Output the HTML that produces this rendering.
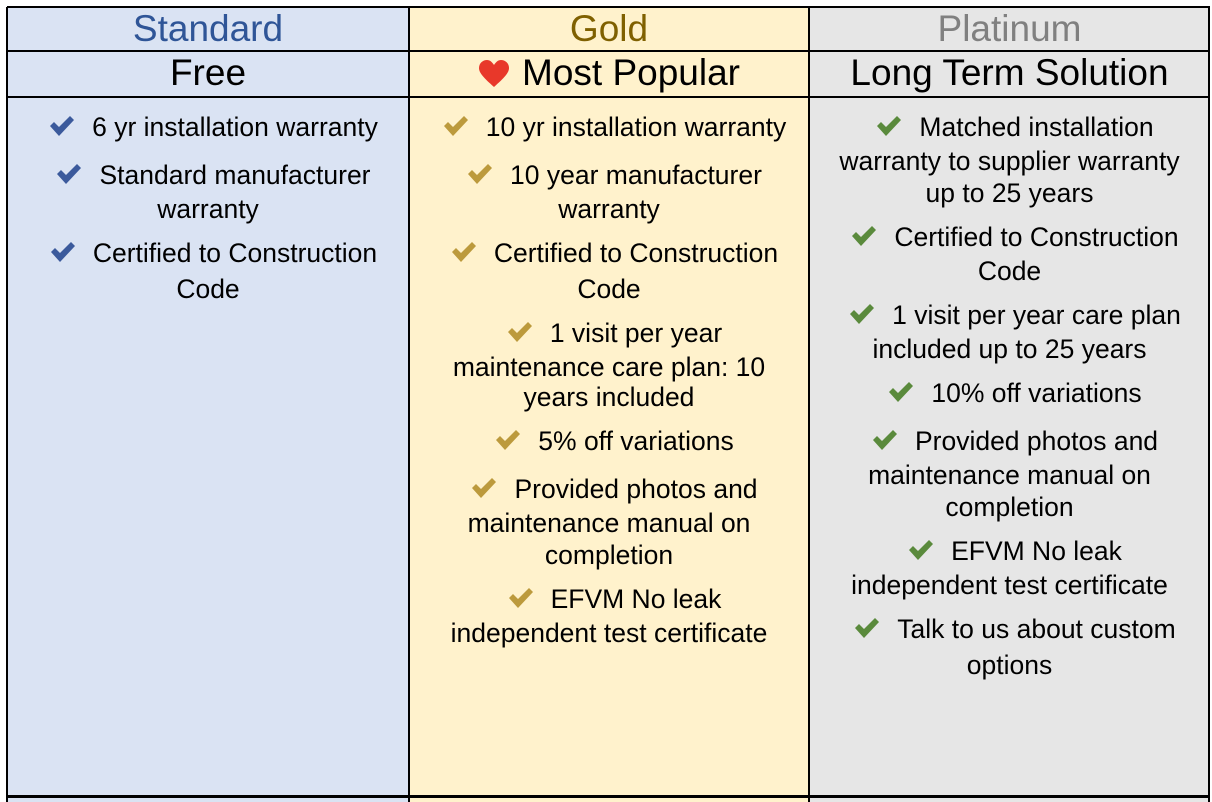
<!DOCTYPE html>
<html><head><meta charset="utf-8"><style>
body{margin:0;width:1212px;height:802px;background:#fff;position:relative;overflow:hidden;font-family:"Liberation Sans",Arial,sans-serif}
.col{position:absolute;top:7px;height:789px}
.vl{position:absolute;top:7px;height:795px;width:2px;background:#000}
.hl{position:absolute;left:7px;width:1203px;height:2px;background:#000}
.t{position:absolute;left:0;width:100%;text-align:center;font-size:37px;line-height:40px}
.ln{position:absolute;left:0;width:100%;text-align:center;font-size:26.5px;line-height:30px;white-space:nowrap;color:#000;box-sizing:border-box}
.ck{display:inline-block;vertical-align:-1px;margin-right:18px}
</style></head><body>
<div class="col" style="left:7px;width:402px;background:#dae3f3"></div>
<div class="col" style="left:409px;width:400px;background:#fff2cc"></div>
<div class="col" style="left:809px;width:401px;background:#e6e6e6"></div>
<div style="position:absolute;left:7px;top:797px;width:402px;height:5px;background:#dae3f3"></div>
<div style="position:absolute;left:409px;top:797px;width:400px;height:5px;background:#fff2cc"></div>
<div style="position:absolute;left:809px;top:797px;width:401px;height:5px;background:#e6e6e6"></div>
<div class="hl" style="top:6px"></div><div class="hl" style="top:50px"></div><div class="hl" style="top:96px"></div><div class="hl" style="top:795px;height:3px"></div>
<div class="vl" style="left:6px"></div><div class="vl" style="left:408px"></div><div class="vl" style="left:808px"></div><div class="vl" style="left:1208px"></div>
<div id="root"></div>
<script>
const cols=[
 {x:7,w:402,name:"Standard",nc:"#2f5597",sub:"Free",cc:"#3b5a9c",heart:false,
  items:[[["6 yr installation warranty",127]],[["Standard manufacturer",175],["warranty",209]],[["Certified to Construction",253],["Code",289]]]},
 {x:409,w:400,name:"Gold",nc:"#7f6000",sub:"Most Popular",cc:"#bc9a3c",heart:true,
  items:[[["10 yr installation warranty",127]],[["10 year manufacturer",175],["warranty",209]],[["Certified to Construction",253],["Code",289]],[["1 visit per year",333],["maintenance care plan: 10",367],["years included",397]],[["5% off variations",441]],[["Provided photos and",489],["maintenance manual on",523],["completion",555]],[["EFVM No leak",599],["independent test certificate",633]]]},
 {x:809,w:401,name:"Platinum",nc:"#808080",sub:"Long Term Solution",cc:"#5a8a3c",heart:false,
  items:[[["Matched installation",127],["warranty to supplier warranty",161],["up to 25 years",193]],[["Certified to Construction",237],["Code",271]],[["1 visit per year care plan",315],["included up to 25 years",349]],[["10% off variations",393]],[["Provided photos and",441],["maintenance manual on",475],["completion",507]],[["EFVM No leak",551],["independent test certificate",585]],[["Talk to us about custom",629],["options",665]]]}
];
const root=document.getElementById('root');
cols.forEach(c=>{
 const wrap=document.createElement('div');
 
 
 wrap.style.cssText=`position:absolute;left:${c.x}px;top:0;width:${c.w}px;height:802px`;
 const t=document.createElement('div');t.className='t';
 
 
 t.style.top='9px';t.style.color=c.nc;t.textContent=c.name;wrap.appendChild(t);
 const s=document.createElement('div');s.className='t';
 
 
 s.style.top='53px';
 s.innerHTML=(c.heart?'<svg width="32" height="28" viewBox="0 0 32 28" style="vertical-align:-3px;margin-right:12px"><path d="M16 27 C6 18 1 13 1 8 C1 3 5 0 9 0 C12 0 14 2 16 5 C18 2 20 0 23 0 C27 0 31 3 31 8 C31 13 26 18 16 27Z" fill="#e8382a"/></svg>':'')+c.sub;
 wrap.appendChild(s);
 c.items.forEach(it=>{
  it.forEach((l,i)=>{
   const d=document.createElement('div');d.className='ln';
   
   
   d.style.top=(l[1]-15)+'px';
   if(i==0)d.style.paddingLeft='12px';
   d.innerHTML=(i==0?`<svg class="ck" width="24" height="21" viewBox="0 0 24 21"><path d="M0 10 L4 6 L9 11 L20 0 L24 4 L9 20 Z" fill="${c.cc}"/></svg>`:'')+l[0];
   wrap.appendChild(d);
  });
 });
 root.appendChild(wrap);
});
</script>
</body></html>
